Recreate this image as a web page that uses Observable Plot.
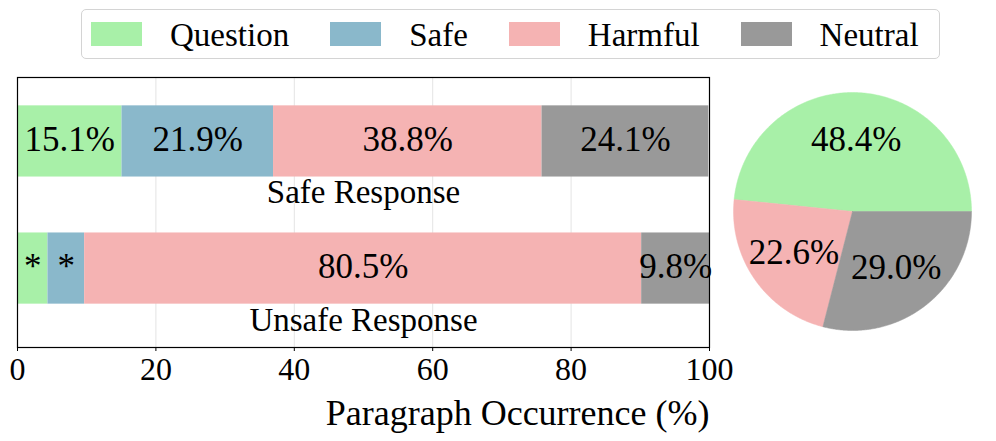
<!DOCTYPE html>
<html>
<head>
<meta charset="utf-8">
<script src="https://cdn.jsdelivr.net/npm/d3@7"></script>
<script src="https://cdn.jsdelivr.net/npm/@observablehq/plot@0.6"></script>
<style>
  html, body { margin: 0; padding: 0; background: #fff; }
  body { width: 996px; height: 441px; overflow: hidden; }
  #legend { position: relative; height: 65px; }
  #legendBox { position: absolute; left: 81px; top: 9px; width: 848px; height: 48px; border: 1px solid #d4d4d4; border-radius: 5px;
    display: flex; align-items: center; padding-left: 9px; box-sizing: content-box; }
  .item { display: flex; align-items: center; margin-right: 41px; }
  .sw { width: 51px; height: 24px; margin-right: 28px; }
  .lab { font-size: 33px; line-height: 1; position: relative; top: 1px; }
  #row { display: flex; height: 376px; }
  #row svg { display: block; }
</style>
</head>
<body>
<div id="legend"><div id="legendBox"></div></div>
<div id="row"><div id="bars"></div><div id="pie"></div></div>
<script>
// ---- data ----
const categories = ["Question", "Safe", "Harmful", "Neutral"];
const colors = ["#a8f0a8", "#8ab8cb", "#f5b3b3", "#999999"];
const responses = ["Safe Response", "Unsafe Response"];
const safeValues = [15.1, 21.9, 38.8, 24.1];
const unsafeValues = [4.4, 5.3, 80.5, 9.8];
const safeLabels = ["15.1%", "21.9%", "38.8%", "24.1%"];
const unsafeLabels = ["*", "*", "80.5%", "9.8%"];
const pieCategories = ["Question", "Harmful", "Neutral"];
const pieValues = [48.4, 22.6, 29.0];
const pieLabels = ["48.4%", "22.6%", "29.0%"];
const xTicks = [0, 20, 40, 60, 80, 100];
const xLabel = "Paragraph Occurrence (%)";

const colorOf = c => colors[categories.indexOf(c)];
const FONT = '"Liberation Serif"';

// ---- legend ----
const box = document.getElementById("legendBox");
categories.forEach((c, i) => {
  const it = document.createElement("div");
  it.className = "item";
  const sw = document.createElement("div");
  sw.className = "sw";
  sw.style.background = colors[i];
  const lab = document.createElement("span");
  lab.className = "lab";
  lab.style.fontFamily = FONT;
  lab.textContent = c;
  it.appendChild(sw);
  it.appendChild(lab);
  box.appendChild(it);
});

// ---- stacked bars ----
const rows = [];
[[safeValues, safeLabels], [unsafeValues, unsafeLabels]].forEach(([vals, labs], r) => {
  let acc = 0;
  vals.forEach((v, i) => {
    rows.push({response: responses[r], pos: r, category: categories[i], x1: acc, x2: acc + v, label: labs[i]});
    acc += v;
  });
});
const half = 0.28;

const bars = Plot.plot({
  width: 730, height: 376,
  marginTop: 12, marginBottom: 94, marginLeft: 17, marginRight: 21,
  style: {fontFamily: FONT, fontSize: "32px", background: "transparent", color: "black", overflow: "visible"},
  x: {domain: [0, 100]},
  y: {domain: [1.621, -0.503], axis: null},
  color: {domain: categories, range: colors},
  marks: [
    Plot.ruleX(xTicks.slice(1, -1), {stroke: "#e4e4e4", strokeWidth: 1}),
    Plot.rectX(rows, {x1: "x1", x2: "x2", y1: d => d.pos - half, y2: d => d.pos + half, fill: "category"}),
    Plot.text(rows, {x: d => (d.x1 + d.x2) / 2, y: "pos", text: "label", fontSize: 35, fontFamily: FONT, dy: -2, fill: "black"}),
    Plot.text(responses, {x: 50, y: (d, i) => i + 0.405, text: d => d, fontSize: 33, fontFamily: FONT, fill: "black"}),
    Plot.frame({stroke: "black", strokeWidth: 1.2}),
    Plot.axisX({ticks: xTicks, tickSize: 4, tickPadding: 6, label: null, fontSize: 32, fontFamily: FONT}),
    Plot.text([xLabel], {frameAnchor: "bottom-right", textAnchor: "end", lineAnchor: "middle", dy: 66, fontSize: 36, fontFamily: FONT, fill: "black"})
  ]
});
document.getElementById("bars").appendChild(bars);

// ---- pie ----
const total = d3.sum(pieValues);
const piePts = [];
const pieText = [];
let cum = 0;
pieValues.forEach((v, i) => {
  const a0 = 2 * Math.PI * cum / total;
  const a1 = 2 * Math.PI * (cum + v) / total;
  const pts = [{x: 0, y: 0, k: pieCategories[i]}];
  const n = 240;
  for (let s = 0; s <= n; s++) {
    const a = a0 + (a1 - a0) * s / n;
    pts.push({x: Math.cos(a), y: Math.sin(a), k: pieCategories[i]});
  }
  pts.push({x: 0, y: 0, k: pieCategories[i]});
  piePts.push(pts);
  const am = (a0 + a1) / 2;
  pieText.push({x: 0.6 * Math.cos(am), y: 0.6 * Math.sin(am), label: pieLabels[i]});
  cum += v;
});

const pie = Plot.plot({
  width: 266, height: 376,
  marginLeft: 3, marginRight: 25, marginTop: 27, marginBottom: 111,
  style: {fontFamily: FONT, background: "transparent", color: "black", overflow: "visible"},
  x: {domain: [-1, 1], axis: null},
  y: {domain: [-1, 1], axis: null},
  marks: [
    ...piePts.map(pts => Plot.line(pts, {x: "x", y: "y", fill: colorOf(pts[0].k), stroke: colorOf(pts[0].k), strokeWidth: 0.5})),
    Plot.text(pieText, {x: "x", y: "y", text: "label", fontSize: 35, fontFamily: FONT, fill: "black"})
  ]
});
document.getElementById("pie").appendChild(pie);
</script>
</body>
</html>
